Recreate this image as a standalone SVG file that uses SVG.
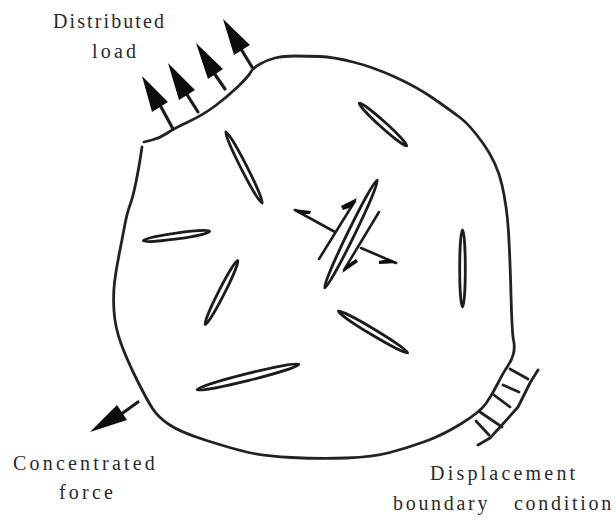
<svg xmlns="http://www.w3.org/2000/svg" width="616" height="521" viewBox="0 0 616 521">
<style>
.t{font-family:"Liberation Serif",serif;font-size:20px;fill:#2a2a2a;letter-spacing:2.1px}
.w{letter-spacing:3.2px}
.m{letter-spacing:2.7px}
.l{fill:none;stroke:#222;stroke-width:2.8;stroke-linecap:round;stroke-linejoin:round}
.c{fill:#fff;stroke:#1c1c1c;stroke-width:2.8}
.sh{fill:none;stroke:#1c1c1c;stroke-width:2.6;stroke-linecap:round}
.s{fill:none;stroke:#1c1c1c;stroke-width:3.2;stroke-linecap:round}
.a{fill:#0c0c0c}
</style>
<rect width="616" height="521" fill="#fff"/>
<g id="body"><path class="l" d="M144 142L152 140Q160 138 166.500 133.500Q173 129 188 122Q203 115 215 106Q227 97 237.500 87Q248 77 250.500 72.500Q253 68 260 64Q267 60 275 58Q283 56 295 56Q307 56 320 56.500Q333 57 353 62Q373 67 395 77Q417 87 433.500 98.500Q450 110 460 117.500Q470 125 483.500 144Q497 163 502 185Q507 207 508.500 232Q510 257 511 295Q512 333 513.500 340Q515 347 513.500 353.500Q512 360 507.500 366.500Q503 373 497.500 384Q492 395 486 403.500Q480 412 461.500 423.500Q443 435 425 441.500Q407 448 390 452.500Q373 457 346.500 458Q320 459 291.500 457.500Q263 456 246.500 452Q230 448 205 440Q180 432 169 424.500Q158 417 152.500 408.500Q147 400 137 380Q127 360 121 343.500Q115 327 114 311Q113 295 114.500 282.500Q116 270 119 255Q122 240 124.500 226.500Q127 213 130 205Q133 197 136 182Q139 167 140.500 157L142 147"/></g>
<g id="cracks">
<ellipse class="c" cx="244" cy="167.500" rx="40" ry="3" transform="rotate(63 244 167.500)"/>
<ellipse class="c" cx="383" cy="124.500" rx="32" ry="3" transform="rotate(42 383 124.500)"/>
<ellipse class="c" cx="176.500" cy="236" rx="33.500" ry="3" transform="rotate(-8 176.500 236)"/>
<ellipse class="c" cx="221.500" cy="292.500" rx="36" ry="3" transform="rotate(-63 221.500 292.500)"/>
<ellipse class="c" cx="462.500" cy="268.500" rx="38.500" ry="2.800" transform="rotate(90 462.500 268.500)"/>
<ellipse class="c" cx="373" cy="332" rx="40.500" ry="3" transform="rotate(31 373 332)"/>
<ellipse class="c" cx="248" cy="377" rx="52.500" ry="3.500" transform="rotate(-14 248 377)"/>
<ellipse class="c" cx="351" cy="234" rx="60" ry="3.500" transform="rotate(-64 351 234)"/>
</g>
<g id="shear-arrows">
<path class="sh" d="M319 259L355 201M379 212L344 270M335 232L295 210M361 248L396 263"/>
<path class="a" d="M357 198L341 206L343 210L352 207ZM342 273L358 262L356 259L347 265ZM293 209L311 211L310 214L300 214ZM398 263L379 264L379 261L388 259Z"/>
</g>
<g id="distributed-load">
<path class="s" d="M173 129L160 105M198 112L186 93M225 89L214 73M252 67L241 49"/>
<path class="a" d="M142 76L168 102L152 112ZM168 63L195 90L179 100ZM196 43L223 69L208 79ZM223 19L250 45L234 55Z"/>
</g>
<g id="concentrated-force">
<path class="s" d="M138 402L120 415"/>
<path class="a" d="M90 432L117 405L127 420Z"/>
</g>
<g id="displacement-boundary">
<path class="l" d="M538 370L530 383L518 407L502 425L490 438L478 445"/>
<path class="l" d="M510 369L528 379M503 385L519 392M494 395L510 407M480 412L502 427M476 421L489 435"/>
</g>
<g id="labels">
<text class="t" x="53" y="28">Distributed</text>
<text class="t w" x="92" y="58">load</text>
<text class="t w" x="13" y="470">Concentrated</text>
<text class="t w" x="59" y="499">force</text>
<text class="t w" x="430" y="480">Displacement</text>
<text class="t m" x="393" y="510">boundary</text>
<text class="t m" x="514" y="510">condition</text>
</g>
</svg>
